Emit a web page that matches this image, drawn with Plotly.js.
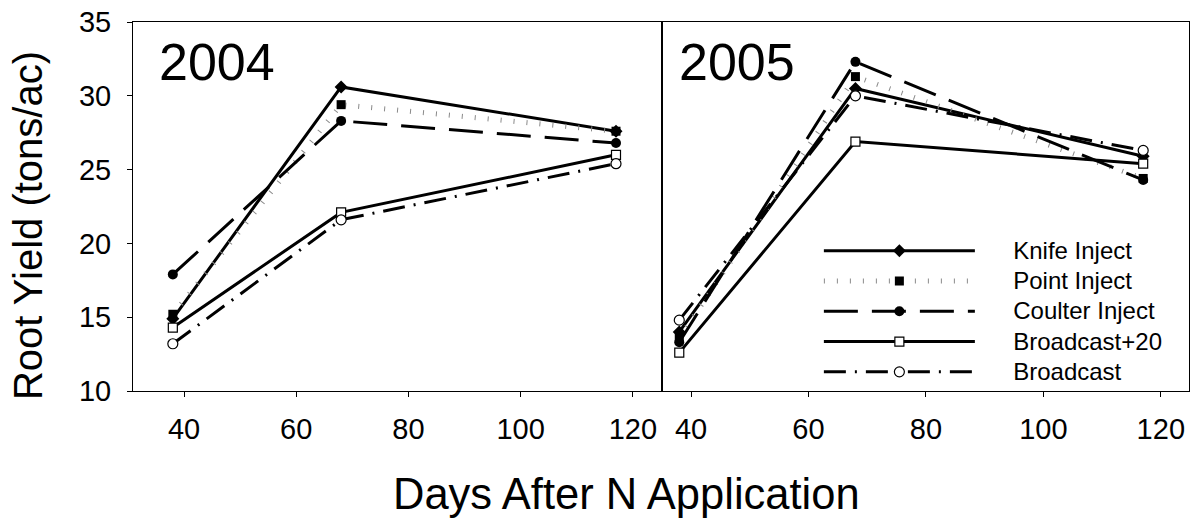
<!DOCTYPE html>
<html>
<head>
<meta charset="utf-8">
<script src="https://cdn.plot.ly/plotly-3.0.1.min.js"></script>
<style>html,body{margin:0;padding:0;background:#fff;}#chart{width:1191px;height:522px;}</style>
</head>
<body>
<div id="chart"></div>
<script>
// ---- data ----
const days = [38, 68, 117];
const seriesNames = ["Knife Inject", "Point Inject", "Coulter Inject", "Broadcast+20", "Broadcast"];
const yield2004Knife   = [14.9, 30.6, 27.6];
const yield2004Point   = [15.2, 29.4, 27.6];
const yield2004Coulter = [17.9, 28.3, 26.8];
const yield2004Bc20    = [14.3, 22.1, 26.0];
const yield2004Bc      = [13.2, 21.6, 25.4];
const yield2005Knife   = [14.0, 30.5, 25.9];
const yield2005Point   = [13.6, 31.3, 24.4];
const yield2005Coulter = [13.3, 32.3, 24.3];
const yield2005Bc20    = [12.6, 26.9, 25.4];
const yield2005Bc      = [14.8, 30.0, 26.3];
const panelLabels = ["2004", "2005"];
const xTicks = [40, 60, 80, 100, 120];
const yTicks = [10, 15, 20, 25, 30, 35];

// ---- styles ----
const styles = [
  {line:{color:"#000", width:3, dash:"solid"}, marker:{symbol:"diamond", size:10, color:"#000"}},
  {line:{color:"#8a8a8a", width:5, dash:"1px,12px"}, marker:{symbol:"square", size:9, color:"#000"}},
  {line:{color:"#000", width:3, dash:"34px,14px"}, marker:{symbol:"circle", size:10, color:"#000"}},
  {line:{color:"#000", width:3, dash:"solid"}, marker:{symbol:"square", size:9, color:"#fff", line:{color:"#000", width:1.2}}},
  {line:{color:"#000", width:3, dash:"22px,9px,2px,9px"}, marker:{symbol:"circle", size:10, color:"#fff", line:{color:"#000", width:1.2}}}
];
const data04 = [yield2004Knife, yield2004Point, yield2004Coulter, yield2004Bc20, yield2004Bc];
const data05 = [yield2005Knife, yield2005Point, yield2005Coulter, yield2005Bc20, yield2005Bc];
const PAD = "\u00A0\u00A0\u00A0\u00A0\u00A0";
const legendName = n => '<span style="font-size:24px">' + PAD + n + '</span>';

const traces = [];
data04.forEach((ys, i) => traces.push({
  x: days, y: ys, name: seriesNames[i], type: "scatter", mode: "lines+markers",
  xaxis: "x", yaxis: "y", legendgroup: "g" + i, showlegend: false,
  line: styles[i].line, marker: styles[i].marker
}));
data05.forEach((ys, i) => traces.push({
  x: days, y: ys, name: legendName(seriesNames[i]), type: "scatter", mode: "lines+markers",
  xaxis: "x2", yaxis: "y2", legendgroup: "g" + i, showlegend: true,
  line: styles[i].line, marker: styles[i].marker
}));

const FONT = "Liberation Sans, Arial, sans-serif";
const split = 529 / 1056;
const axisCommon = {
  showline: true, linecolor: "#000", linewidth: 1, mirror: true,
  showgrid: false, zeroline: false, ticks: "outside", ticklen: 5, tickcolor: "#000",
  tickfont: {family: FONT, size: 29, color: "#000"}
};

const layout = {
  width: 1191, height: 522,
  margin: {l: 133, r: 2, t: 22, b: 131},
  paper_bgcolor: "#fff", plot_bgcolor: "#fff",
  font: {family: FONT, color: "#000"},
  xaxis: Object.assign({}, axisCommon, {domain: [0, split], range: [30.9, 125.2], tickvals: xTicks, ticklabelstandoff: 7, anchor: "y"}),
  xaxis2: Object.assign({}, axisCommon, {domain: [split, 1], range: [35.06, 124.8], tickvals: xTicks, ticklabelstandoff: 7, anchor: "y2"}),
  yaxis: Object.assign({}, axisCommon, {range: [10, 35], tickvals: yTicks, ticklabelstandoff: 10, anchor: "x"}),
  yaxis2: Object.assign({}, axisCommon, {range: [10, 35], tickvals: yTicks, showticklabels: false, ticks: "", anchor: "x2"}),
  showlegend: true,
  legend: {
    x: 0.6495, y: 0.435, xanchor: "left", yanchor: "top",
    bgcolor: "rgba(0,0,0,0)", borderwidth: 0,
    font: {family: FONT, size: 21, color: "#000"},
    itemwidth: 151, tracegroupgap: 0
  },
  annotations: [
    {text: panelLabels[0], xref: "paper", yref: "paper", x: 0.023, y: 0.975, xanchor: "left", yanchor: "top", showarrow: false, font: {family: FONT, size: 52, color: "#000"}},
    {text: panelLabels[1], xref: "paper", yref: "paper", x: split + 0.014, y: 0.975, xanchor: "left", yanchor: "top", showarrow: false, font: {family: FONT, size: 52, color: "#000"}},
    {text: "Days After N Application", xref: "paper", yref: "paper", x: (626 - 133) / 1056, y: -0.279, xanchor: "center", yanchor: "middle", showarrow: false, font: {family: FONT, size: 43.5, color: "#000"}},
    {text: "Root Yield (tons/ac)", xref: "paper", yref: "paper", x: (28 - 133) / 1056, y: 0.447, xanchor: "center", yanchor: "middle", textangle: -90, showarrow: false, font: {family: FONT, size: 40, color: "#000"}}
  ]
};

Plotly.newPlot("chart", traces, layout, {displayModeBar: false, staticPlot: true});
</script>
</body>
</html>
